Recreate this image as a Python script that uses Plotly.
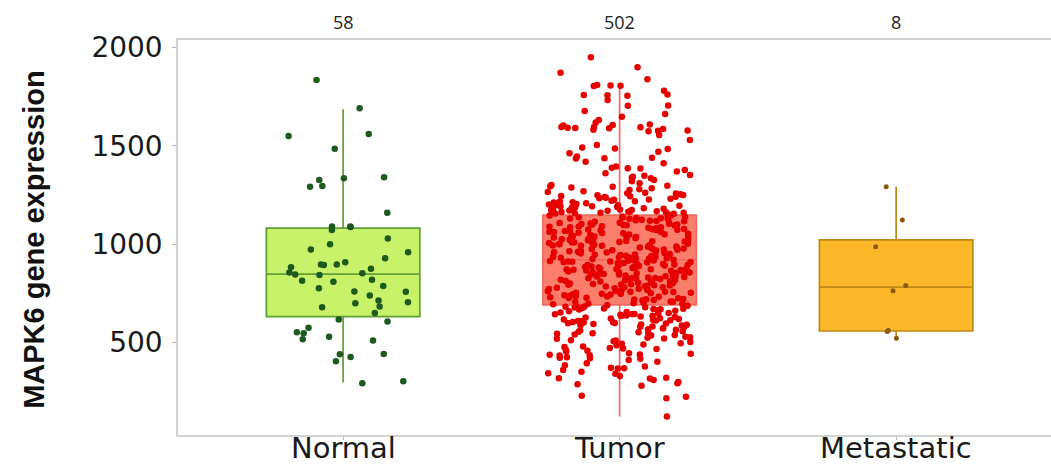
import plotly.graph_objects as go

# ---- data -----------------------------------------------------------------
categories = ["Normal", "Tumor", "Metastatic"]

normal_values = [
    1836, 1692, 1551, 1561, 1486, 1327, 1297, 1336, 1341, 1292,
    1161, 1090, 1073, 1090, 1088, 1029, 973, 929, 909, 895,
    897, 897, 875, 883, 853, 844, 846, 856, 815, 810,
    788, 777, 759, 714, 739, 683, 705, 680, 607, 617,
    576, 553, 548, 530, 510, 517, 442, 427, 405, 441,
    293, 304, 1000, 960, 820, 760, 700, 650,
]

tumor_values = [
    # upper tail
    1951, 1900, 1873, 1839, 1808, 1805, 1810, 1806, 1781, 1759,
    1762, 1756, 1758, 1734, 1704, 1706, 1678, 1663, 1649, 1632,
    1619, 1607, 1609, 1604, 1595, 1597, 1593, 1596, 1592, 1590,
    1586, 1583, 1579, 1577, 1575, 1556, 1531, 1505, 1485, 1487,
    1492, 1463, 1446, 1438, 1440, 1436, 1412, 1387, 1389, 1395,
    1385, 1378, 1361, 1353, 1336, 1338, 1344, 1327, 1302, 1293,
    1295, 1285, 1276, 1260, 1262, 1251, 1249, 1242, 1244, 1240,
    1234, 1226, 1228, 1217, 1219, 1209, 1200, 1202, 1192, 1194,
    1183, 1185, 1181, 1175, 1177, 1166, 1168, 1164, 1167, 1158,
    1160, 1152, 1155, 1157, 1161, 1163, 1170, 1172, 1174, 1179,
    1187, 1189, 1196, 1198, 1205, 1207, 1212, 1214, 1222, 1231,
    1237, 1246, 1255, 1258, 1266, 1270, 1280, 1289, 1298, 1310,
    1320, 1348, 1370, 1420, 1470,
    # lower tail
    690, 686, 682, 678, 674, 671, 668, 650, 646, 642,
    640, 637, 644, 635, 618, 614, 616, 612, 620, 610,
    592, 588, 577, 574, 572, 558, 555, 553, 541, 538,
    536, 524, 521, 519, 507, 503, 490, 486, 473, 470,
    468, 455, 439, 436, 434, 438, 423, 420, 418, 425,
    403, 370, 372, 368, 378, 344, 341, 319, 321, 317,
    310, 293, 288, 281, 230, 225, 217, 124, 688, 684,
    680, 676, 672, 669, 665, 662, 659, 656, 653, 648,
    645, 638, 633, 630, 627, 624, 622, 608, 605, 602,
    600, 597, 595, 585, 582, 580, 568, 565, 562, 550,
    547, 545, 530, 527, 512, 510, 497, 494, 480, 477,
    462, 459, 446, 443, 412, 395, 385, 360, 352, 330,
    300, 603, 598, 591, 587,
    # inside the box, below the median
    695, 698, 703, 706, 709, 714, 719, 720, 725, 728,
    733, 735, 736, 741, 746, 748, 751, 754, 758, 759,
    763, 766, 771, 772, 776, 779, 782, 787, 789, 790,
    794, 797, 800, 802, 807, 809, 812, 813, 817, 820,
    823, 825, 828, 831, 833, 836, 840, 841, 845, 848,
    849, 853, 856, 858, 861, 864, 866, 869, 872, 874,
    877, 879, 882, 884, 887, 889, 892, 895, 897, 899,
    902, 905, 907, 910, 912, 915, 917, 919, 700, 717,
    730, 744, 753, 767, 781, 795, 804, 818, 827, 838,
    846, 859, 867, 876, 885, 894, 903, 913, 696, 708,
    722, 738, 749, 761, 774, 785, 798, 811, 822, 835,
    851, 862, 873, 881, 890, 900, 908, 916, 727, 757,
    792, 829, 854, 871, 886, 911,
    # inside the box, above the median
    921, 923, 926, 929, 931, 934, 937, 940, 942, 945,
    948, 951, 953, 956, 958, 962, 965, 967, 970, 973,
    976, 978, 981, 984, 987, 989, 992, 995, 998, 1001,
    1003, 1006, 1009, 1012, 1014, 1017, 1020, 1023, 1025, 1028,
    1031, 1034, 1037, 1039, 1042, 1045, 1048, 1050, 1053, 1056,
    1059, 1062, 1064, 1067, 1070, 1073, 1075, 1078, 1081, 1084,
    1087, 1089, 1092, 1095, 1098, 1100, 1103, 1106, 1109, 1112,
    1114, 1117, 1120, 1123, 1125, 1128, 1131, 1134, 1137, 1139,
    1142, 1145, 1147, 925, 936, 947, 959, 972, 983, 994,
    1005, 1016, 1027, 1040, 1051, 1063, 1074, 1086, 1097, 1108,
    1119, 1130, 1141, 928, 944, 961, 977, 993, 1010, 1026,
    1043, 1058, 1076, 1091, 1105, 1122, 1136, 933, 968, 1000,
    1032, 1066, 1101, 1133, 955, 1019,
]

metastatic_values = [1293, 1124, 988, 790, 764, 556, 561, 522]

# box summaries (lower whisker, Q1, median, Q3, upper whisker)
lower_whiskers = [297, 124, 522]
q1s = [632, 692, 559]
medians = [848, 920, 782]
q3s = [1082, 1149, 1022]
upper_whiskers = [1687, 1810, 1293]

# ---- styling ----------------------------------------------------------------
groups = [normal_values, tumor_values, metastatic_values]
box_fills = ["#c9f26b", "#fb7d6b", "#fdb829"]
box_lines = ["#5f9f34", "#ee6a5e", "#c08814"]
point_colors = ["#1e5a1e", "#e60000", "#8a5a0c"]
point_sizes = [6.5, 6.5, 5]
jitter_half = [0.24, 0.26, 0.09]
box_width = 0.555

fig = go.Figure()

for i, name in enumerate(categories):
    pos = i + 1
    fig.add_trace(go.Box(
        x=[pos],
        q1=[q1s[i]], median=[medians[i]], q3=[q3s[i]],
        lowerfence=[lower_whiskers[i]], upperfence=[upper_whiskers[i]],
        orientation="v",
        width=box_width,
        whiskerwidth=0,
        boxpoints=False,
        fillcolor=box_fills[i],
        line=dict(color=box_lines[i], width=1.7),
        hoverinfo="skip",
        showlegend=False,
    ))


def spread(k):
    """Deterministic quasi-random offset in [-0.5, 0.5) for the k-th point."""
    a1, a2 = 0.7548776662466927, 0.5698402909980532
    return ((k * k * a2 + k * a1 + 0.3) % 1.0) - 0.5


# jittered sample points
for i, vals in enumerate(groups):
    pos = i + 1
    xs = [pos + spread(k) * 2 * jitter_half[i] for k in range(len(vals))]
    fig.add_trace(go.Scatter(
        x=xs, y=vals, mode="markers",
        marker=dict(color=point_colors[i], size=point_sizes[i], line=dict(width=0)),
        showlegend=False, hoverinfo="y",
    ))

# sample counts above each group, category names below
for i, vals in enumerate(groups):
    fig.add_annotation(
        x=i + 1, xref="x", y=1.045, yref="paper",
        text=str(len(vals)), showarrow=False,
        font=dict(family="Open Sans", size=18, color="#222222"),
        xanchor="center", yanchor="middle",
    )
    fig.add_annotation(
        x=i + 1, xref="x", y=-0.0775, yref="paper",
        text=categories[i], showarrow=False,
        font=dict(family="DejaVu Sans", size=29, color="#1a1a1a"),
        xanchor="center", yanchor="bottom", borderpad=0,
    )

fig.add_annotation(
    x=-0.165, xref="paper", y=0.494, yref="paper",
    text="<b>MAPK6 gene expression</b>", textangle=-90, showarrow=False,
    font=dict(family="Liberation Sans", size=29, color="#111111"),
    xanchor="center", yanchor="middle",
)

axis_line = "#d2d2d2"
fig.update_layout(
    width=1051, height=466,
    margin=dict(l=178, r=0, t=40, b=31, autoexpand=False),
    paper_bgcolor="white", plot_bgcolor="white",
    boxmode="overlay",
    xaxis=dict(
        range=[0.403, 3.56],
        tickvals=[1, 2, 3], showticklabels=False,
        showline=True, linecolor=axis_line, linewidth=1.5, mirror=True,
        ticks="outside", ticklen=3, tickcolor="#b8b8b8",
        showgrid=False, zeroline=False, automargin=False,
    ),
    yaxis=dict(
        range=[30, 2039],
        tickvals=[500, 1000, 1500, 2000],
        showline=True, linecolor=axis_line, linewidth=1.5,
        ticks="outside", ticklen=4, tickcolor="#b8b8b8",
        showgrid=False, zeroline=False, automargin=False,
        ticklabelstandoff=4,
        tickfont=dict(family="DejaVu Sans", size=28, color="#1a1a1a"),
    ),
)

fig.write_html("out.html")
